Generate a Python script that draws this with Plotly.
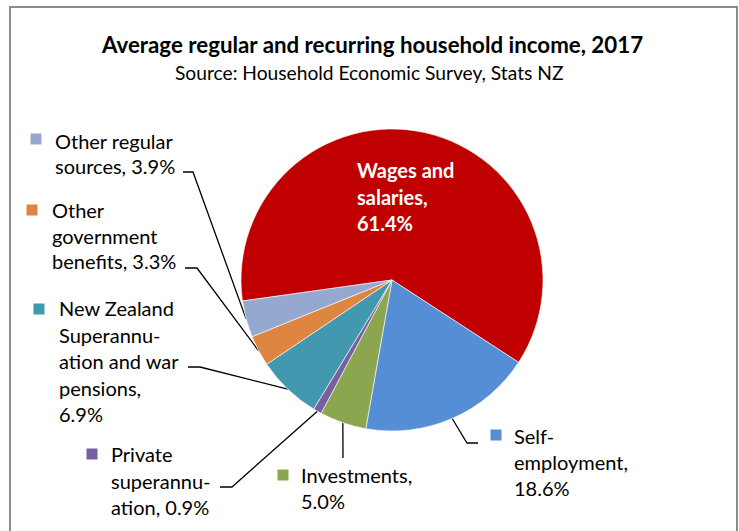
import math
import plotly.graph_objects as go

# Data
categories = ["Wages and salaries", "Self-employment", "Investments",
              "Private superannuation",
              "New Zealand Superannuation and war pensions",
              "Other government benefits", "Other regular sources"]
shares = [61.4, 18.6, 5.0, 0.9, 6.9, 3.3, 3.9]
colors = ["#C00000", "#558ED5", "#8BA64E", "#7760A0", "#4198AF", "#DE8641", "#95A9D0"]

# label text split the way the chart wraps it
label_lines = {
    "Wages and salaries": ["Wages and", "salaries,"],
    "Self-employment": ["Self-", "employment,"],
    "Investments": ["Investments,"],
    "Private superannuation": ["Private", "superannu-", "ation,"],
    "New Zealand Superannuation and war pensions": ["New Zealand", "Superannu-", "ation and war", "pensions,"],
    "Other government benefits": ["Other", "government", "benefits,"],
    "Other regular sources": ["Other regular", "sources,"],
}

W, H = 739, 531
cx, cy, r = 392, 280, 151
rotation = 262
font = "Lato, Carlito, Calibri, sans-serif"

# layout of outside labels (pixel coords): square centre, text left, first line y, line pitch,
# leader elbow and leader end
label_pos = {
    "Self-employment": dict(sq=(496, 435), tx=512, ty=436, dy=26, elbow=(467, 443), end=(478, 443)),
    "Investments": dict(sq=(283, 475), tx=299, ty=475, dy=26, elbow=(343, 458), end=(343, 458)),
    "Private superannuation": dict(sq=(92, 454), tx=109, ty=454, dy=26.5, elbow=(232, 487), end=(220, 487)),
    "New Zealand Superannuation and war pensions": dict(sq=(39, 309), tx=57, ty=308, dy=26.5, elbow=(200, 367), end=(188, 367)),
    "Other government benefits": dict(sq=(32, 210), tx=50, ty=210, dy=25.5, elbow=(197, 268), end=(185, 268)),
    "Other regular sources": dict(sq=(36, 139), tx=53, ty=141, dy=25, elbow=(193, 172), end=(183, 172)),
}

fig = go.Figure()

fig.add_trace(go.Pie(
    labels=categories, values=shares, sort=False, direction="clockwise",
    rotation=rotation, textinfo="none", hoverinfo="label+percent",
    marker=dict(colors=colors, line=dict(color="white", width=0.6)),
    domain=dict(x=[(cx - r) / W, (cx + r) / W], y=[1 - (cy + r) / H, 1 - (cy - r) / H]),
    showlegend=False,
))

annotations = []
total = sum(shares)
start = rotation
for cat, val, col in zip(categories, shares, colors):
    span = val / total * 360
    mid = math.radians(start + span / 2)
    start += span
    pct = f"{val:.1f}%"
    lines = list(label_lines[cat])
    if cat == "Wages and salaries":
        lines.append(pct)
        for i, t in enumerate(lines):
            annotations.append(dict(x=355, y=170 + i * 26.5, xref="x", yref="y", text=f"<b>{t}</b>",
                                    showarrow=False, xanchor="left", yanchor="middle",
                                    font=dict(family=font, size=20, color="white")))
        continue
    # percentage goes on the last line or a line of its own
    if cat in ("New Zealand Superannuation and war pensions", "Investments", "Self-employment"):
        lines.append(pct)
    else:
        lines[-1] = lines[-1] + " " + pct
    p = label_pos[cat]
    ex, ey = cx + r * math.sin(mid), cy - r * math.cos(mid)
    fig.add_trace(go.Scatter(
        x=[ex, p["elbow"][0], p["end"][0]], y=[ey, p["elbow"][1], p["end"][1]],
        mode="lines", line=dict(color="black", width=1.3), hoverinfo="skip", showlegend=False))
    fig.add_trace(go.Scatter(
        x=[p["sq"][0]], y=[p["sq"][1]], mode="markers",
        marker=dict(symbol="square", size=11, color=col), hoverinfo="skip", showlegend=False))
    for i, t in enumerate(lines):
        annotations.append(dict(x=p["tx"], y=p["ty"] + i * p["dy"], xref="x", yref="y", text=t,
                                showarrow=False, xanchor="left", yanchor="middle",
                                font=dict(family=font, size=20, color="black")))

annotations.append(dict(x=372, y=44, xref="x", yref="y", showarrow=False,
                        text="<b>Average regular and recurring household income, 2017</b>",
                        font=dict(family=font, size=22.3, color="black")))
annotations.append(dict(x=369, y=72, xref="x", yref="y", showarrow=False,
                        text="Source: Household Economic Survey, Stats NZ",
                        font=dict(family=font, size=19.2, color="black")))

fig.update_layout(
    width=W, height=H,
    margin=dict(l=0, r=0, t=0, b=0),
    paper_bgcolor="white", plot_bgcolor="white",
    xaxis=dict(range=[0, W], visible=False, fixedrange=True),
    yaxis=dict(range=[H, 0], visible=False, fixedrange=True),
    annotations=annotations,
    shapes=[dict(type="rect", xref="x", yref="y", x0=10, y0=7, x1=737, y1=545,
                 line=dict(color="#8C8C8C", width=2), layer="below")],
)

# page body has an 8px default margin; drop it so the figure sits at the window corner
fig.write_html("out.html", config={"displayModeBar": False},
               post_script="document.body.style.margin='0px';")
